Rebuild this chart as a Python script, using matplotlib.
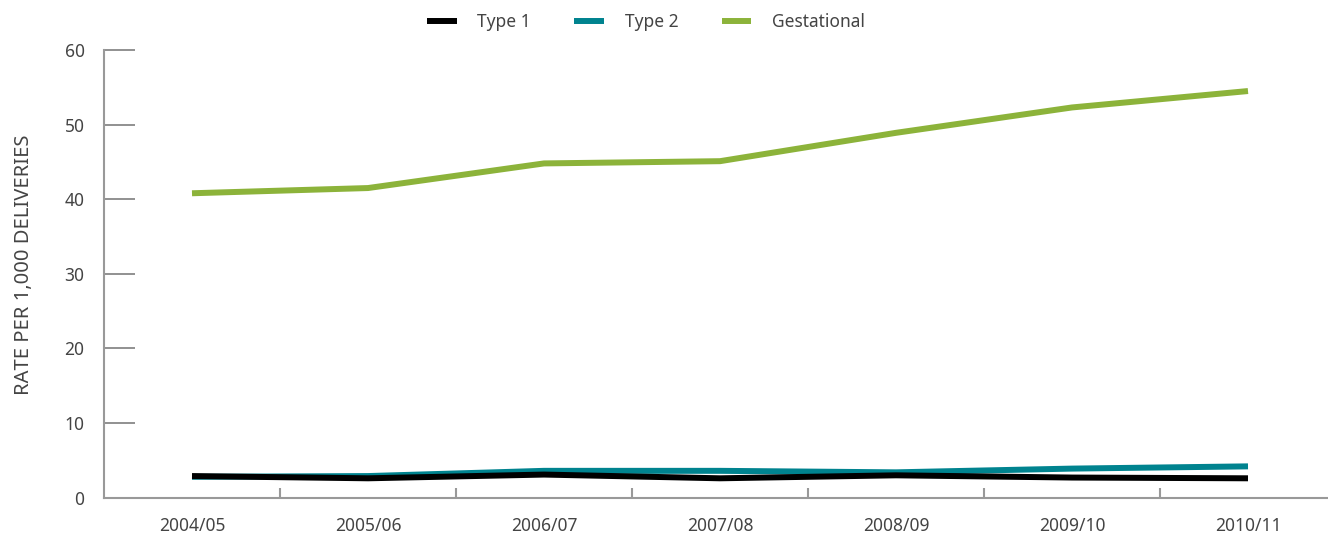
import numpy as np
import matplotlib.pyplot as plt
from matplotlib.ticker import FixedLocator

# values
years = ['2004/05', '2005/06', '2006/07', '2007/08', '2008/09', '2009/10', '2010/11']
type1 = [2.9, 2.6, 3.1, 2.6, 3.0, 2.7, 2.6]
type2 = [2.8, 2.9, 3.6, 3.6, 3.4, 3.9, 4.2]
gestational = [40.8, 41.5, 44.8, 45.1, 48.9, 52.3, 54.5]

plt.rcParams['font.family'] = ['Noto Sans', 'DejaVu Sans']

fig = plt.figure(figsize=(13.28, 5.37), dpi=100)
ax = fig.add_axes([104 / 1328, 39.3 / 537, 1232 / 1328, 447.7 / 537])

x = np.arange(len(years))
ax.plot(x, gestational, color='#8cb33a', lw=4.3, label='Gestational', solid_capstyle='butt')
ax.plot(x, type2, color='#00838f', lw=4.3, label='Type 2', solid_capstyle='butt')
ax.plot(x, type1, color='#000000', lw=4.3, label='Type 1', solid_capstyle='butt')

ax.set_xlim(-0.5, 6.5)
ax.set_ylim(0, 60)
ax.set_xticks(x)
ax.set_xticklabels(years)
ax.xaxis.set_minor_locator(FixedLocator(x[:-1] + 0.5))
ax.tick_params(axis='x', which='major', length=0, pad=14, labelsize=12.5, labelcolor='#444444')
ax.tick_params(axis='x', which='minor', direction='in', length=7, width=1.5, color='#999999')
ax.set_yticks(range(0, 61, 10))
ax.tick_params(axis='y', direction='in', length=22, width=1.3, color='#888888',
               pad=14, labelsize=12.5, labelcolor='#444444')

for s in ['top', 'right']:
    ax.spines[s].set_visible(False)
for s in ['left', 'bottom']:
    ax.spines[s].set_color('#999999')
    ax.spines[s].set_linewidth(1.5)

ax.set_ylabel('RATE PER 1,000 DELIVERIES', fontsize=14.5, color='#444444')
# label sits a little above the axis centre in the original
ax.yaxis.set_label_coords(-0.057, 0.52)

h, l = ax.get_legend_handles_labels()
order = [2, 1, 0]
fig.legend([h[i] for i in order], [l[i] for i in order], loc='center', ncol=3,
           bbox_to_anchor=(646 / 1328, 1 - 22 / 537), frameon=False, fontsize=12.5,
           handlelength=1.7, handletextpad=1.2, columnspacing=2.5, labelcolor='#444444')

fig.savefig('out.png', dpi=100)
